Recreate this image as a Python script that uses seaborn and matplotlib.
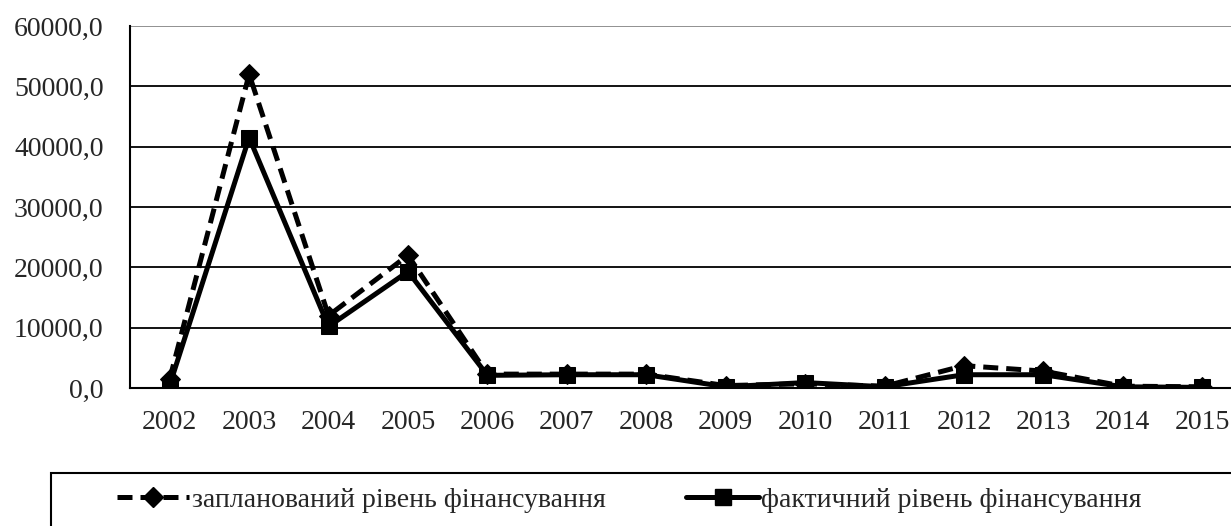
import numpy as np
import pandas as pd
import matplotlib
matplotlib.use("Agg")
import matplotlib.pyplot as plt
import seaborn as sns
from matplotlib.ticker import FixedLocator, FuncFormatter, NullFormatter
from matplotlib.lines import Line2D
from matplotlib.patches import Rectangle

# values
years = ['2002', '2003', '2004', '2005', '2006', '2007', '2008',
         '2009', '2010', '2011', '2012', '2013', '2014', '2015']
planned = [1500, 52000, 12000, 22000, 2300, 2300, 2300,
           400, 700, 300, 3700, 2800, 300, 200]
actual = [500, 41500, 10200, 19300, 2100, 2200, 2200,
          200, 900, 200, 2200, 2200, 200, 100]
planned_label = 'запланований рівень фінансування'
actual_label = 'фактичний рівень фінансування'

df = pd.DataFrame({'pos': np.arange(len(years)), 'planned': planned, 'actual': actual})

sns.set_style("white")
plt.rcParams['font.family'] = ['Liberation Serif', 'DejaVu Serif']
plt.rcParams['font.size'] = 20

fig = plt.figure(figsize=(12.31, 5.26), dpi=100)
# the axes goes past the right edge, the original picture is cropped there
ax = fig.add_axes([130 / 1231, 138 / 526, 1112 / 1231, 362 / 526])

sns.lineplot(data=df, x='pos', y='planned', ax=ax, color='black', lw=3.6,
             linestyle=(0, (3, 1.6)), marker='D', markersize=10,
             markeredgecolor='black', markerfacecolor='black')
sns.lineplot(data=df, x='pos', y='actual', ax=ax, color='black', lw=3.6,
             marker='s', markersize=12, markeredgecolor='black',
             markerfacecolor='black')

ax.set_xlim(-0.5, len(years) - 0.5)
ax.set_ylim(0, 60000)
ax.set_xlabel('')
ax.set_ylabel('')

# category ticks between the years, labels in the middle
ax.xaxis.set_major_locator(FixedLocator(np.arange(-0.5, len(years), 1.0)))
ax.xaxis.set_major_formatter(NullFormatter())
ax.xaxis.set_minor_locator(FixedLocator(np.arange(len(years))))
ax.set_xticklabels(years, minor=True)
ax.tick_params(axis='x', which='major', direction='out', length=6, width=1.3, color='black')
ax.tick_params(axis='x', which='minor', length=0, pad=16, labelsize=20)

ax.set_yticks(np.arange(0, 60001, 10000))
ax.yaxis.set_major_formatter(FuncFormatter(lambda v, p: f'{v:.1f}'.replace('.', ',')))
ax.tick_params(axis='y', direction='out', length=5, width=1.3, color='black', pad=14, labelsize=20)

ax.grid(axis='y', color='black', lw=1.3)
ax.grid(axis='x', visible=False)
ax.get_ygridlines()[-1].set_color('#888888')
for s in ['top', 'right']:
    ax.spines[s].set_visible(False)
for s in ['left', 'bottom']:
    ax.spines[s].set_color('black')
    ax.spines[s].set_linewidth(1.5)

# legend in a box at the bottom, box cut by the image edge
fig.patches.append(Rectangle((51 / 1231, -0.1), 1.2, 0.1 + 53 / 526,
                             transform=fig.transFigure, fill=False,
                             edgecolor='black', lw=1.5))
handles = [Line2D([], [], color='black', lw=3.6, linestyle=(0, (3, 1.6)),
                  marker='D', markersize=10),
           Line2D([], [], color='black', lw=3.6, marker='s', markersize=12)]
fig.legend(handles, [planned_label, actual_label], ncol=2, frameon=False,
           loc='center left', bbox_to_anchor=(117 / 1231, 1 - 500 / 526),
           borderpad=0, borderaxespad=0, handlelength=2.6, handletextpad=0.1,
           columnspacing=2.9, fontsize=20)

plt.savefig('out.png', dpi=100)
